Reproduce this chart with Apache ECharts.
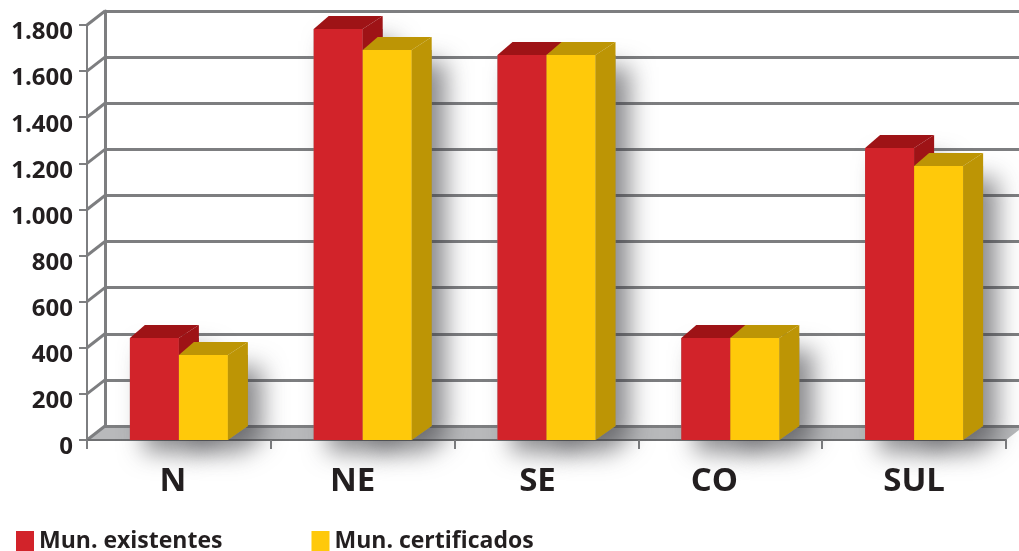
<!DOCTYPE html>
<html>
<head>
<meta charset="utf-8">
<style>
  html, body { margin: 0; padding: 0; background: #fff; overflow: hidden; }
  #chart { width: 1019px; height: 551px; }
</style>
<script src="https://cdn.jsdelivr.net/npm/echarts@6/dist/echarts.min.js"></script>
</head>
<body>
<div id="chart"></div>
<script>
const regions = ["N", "NE", "SE", "CO", "SUL"];
const existentes = [442, 1783, 1670, 442, 1266];
const certificados = [369, 1692, 1670, 442, 1188];
const yTicks = [0, 200, 400, 600, 800, 1000, 1200, 1400, 1600, 1800];

const font = '"Open Sans", "Noto Sans", sans-serif';
const textColor = "#231f20";
const gridColor = "#7d7e80";
const barW = 49;
const depthX = 20;
const depthY = 13;
const wallX = 18;
const wallY = 14;
// the region names sit a bit left of their bands in the original
const labelShift = [12, 20, 18, 32, 0];

// faces of one 3d bar, side is 1 for the right bar, -1 for the left one
function barFaces(api, cat, val, side, front, dark) {
  const top = api.coord([cat, val]);
  const base = api.coord([cat, 0]);
  const x0 = side < 0 ? top[0] - barW : top[0];
  const x1 = x0 + barW;
  const y0 = top[1];
  const y1 = base[1];
  return [
    { type: "polygon", shape: { points: [[x1, y0], [x1 + depthX, y0 - depthY], [x1 + depthX, y1 - 14], [x1, y1]] }, style: { fill: dark } },
    { type: "polygon", shape: { points: [[x0, y0], [x0 + 15, y0 - depthY], [x1 + depthX, y0 - depthY], [x1, y0]] }, style: { fill: dark } },
    { type: "rect", shape: { x: x0, y: y0, width: barW, height: y1 - y0 }, style: { fill: front } },
  ];
}

function barSeries(name, values, side, front, dark, z) {
  return {
    type: "custom",
    name: name,
    z: z,
    xAxisIndex: 0,
    yAxisIndex: 0,
    itemStyle: { color: front },
    encode: { x: 0, y: 1 },
    data: values.map((v, i) => [i, v]),
    clip: false,
    renderItem(params, api) {
      return { type: "group", children: barFaces(api, api.value(0), api.value(1), side, front, dark) };
    },
  };
}

// outline of a bar, only there to throw the soft shadow
function shadowShape(api, cat, val, side) {
  const top = api.coord([cat, val]);
  const base = api.coord([cat, 0]);
  const x0 = side < 0 ? top[0] - barW : top[0];
  const x1 = x0 + barW;
  return {
    type: "polygon",
    shape: { points: [[x0, top[1]], [x1 + depthX, top[1]], [x1 + depthX, base[1] - 14], [x1, base[1]], [x0, base[1]]] },
    style: { fill: "#8a8b8d", shadowBlur: 24, shadowColor: "rgba(60,60,65,0.6)", shadowOffsetX: 14, shadowOffsetY: 12 },
  };
}

const labelRich = {};
regions.forEach((r, i) => {
  labelRich["c" + i] = { fontFamily: font, fontWeight: "bold", fontSize: 33, color: textColor, padding: [0, labelShift[i], 0, 0] };
});

const chart = echarts.init(document.getElementById("chart"), null, { renderer: "canvas" });
chart.setOption({
  animation: false,
  backgroundColor: "#fff",
  legend: {
    left: 11,
    top: 525,
    itemWidth: 18,
    itemHeight: 21,
    itemGap: 89,
    icon: "rect",
    data: ["Mun. existentes", "Mun. certificados"],
    textStyle: { fontFamily: font, fontWeight: "bold", fontSize: 23, color: textColor },
  },
  grid: [
    { left: 87, top: 25, width: 919, height: 415 },
    { left: 87 + wallX, top: 25 - wallY, width: 919, height: 415 },
  ],
  xAxis: [
    {
      type: "category",
      data: regions,
      gridIndex: 0,
      axisLine: { lineStyle: { color: "#6f7072", width: 2 } },
      axisTick: { show: true, length: 9, lineStyle: { color: gridColor, width: 2 } },
      axisLabel: {
        interval: 0,
        margin: 25,
        rich: labelRich,
        formatter: (v) => "{c" + regions.indexOf(v) + "|" + v + "}",
      },
    },
    { type: "category", data: regions, gridIndex: 1, show: false },
  ],
  yAxis: [
    {
      type: "value",
      gridIndex: 0,
      min: 0,
      max: 1800,
      interval: 200,
      axisLine: { show: true, lineStyle: { color: gridColor, width: 2 } },
      axisTick: { show: true, length: 8, lineStyle: { color: gridColor, width: 2 } },
      splitLine: { show: false },
      axisLabel: {
        margin: 14,
        verticalAlign: "top",
        lineHeight: 15,
        fontFamily: font,
        fontWeight: "bold",
        fontSize: 24,
        color: textColor,
        formatter: (v) => String(v).replace(/\B(?=(\d{3})+$)/, "."),
      },
    },
    {
      type: "value",
      gridIndex: 1,
      min: 0,
      max: 1800,
      interval: 200,
      axisLine: { show: true, lineStyle: { color: gridColor, width: 3 } },
      axisTick: { show: false },
      axisLabel: { show: false },
      splitLine: { show: true, lineStyle: { color: gridColor, width: 3 } },
    },
  ],
  series: [
    {
      // floor and the short diagonals from the front axis to the back wall
      type: "custom",
      z: -1,
      silent: true,
      xAxisIndex: 0,
      yAxisIndex: 0,
      encode: { y: 0 },
      data: yTicks.map((t) => [t]),
      clip: false,
      renderItem(params, api) {
        const p = api.coord([0, api.value(0)]);
        const x = params.coordSys.x;
        const diag = {
          type: "line",
          shape: { x1: x, y1: p[1], x2: x + wallX, y2: p[1] - wallY },
          style: { stroke: gridColor, lineWidth: 3 },
        };
        if (api.value(0) !== 0) return diag;
        const right = x + params.coordSys.width;
        return {
          type: "group",
          children: [
            {
              type: "polygon",
              shape: { points: [[x, p[1]], [x + wallX, p[1] - wallY], [right + wallX, p[1] - wallY], [right, p[1]]] },
              style: { fill: "#b8b9bb" },
            },
            diag,
          ],
        };
      },
    },
    {
      type: "custom",
      z: 2,
      silent: true,
      xAxisIndex: 0,
      yAxisIndex: 0,
      encode: { x: 0, y: 1 },
      data: regions.map((r, i) => [i, existentes[i], certificados[i]]),
      clip: false,
      renderItem(params, api) {
        const c = api.value(0);
        return { type: "group", children: [shadowShape(api, c, api.value(1), -1), shadowShape(api, c, api.value(2), 1)] };
      },
    },
    barSeries("Mun. existentes", existentes, -1, "#d2232a", "#9e1316", 3),
    barSeries("Mun. certificados", certificados, 1, "#ffc90a", "#bd9505", 4),
  ],
});
</script>
</body>
</html>
